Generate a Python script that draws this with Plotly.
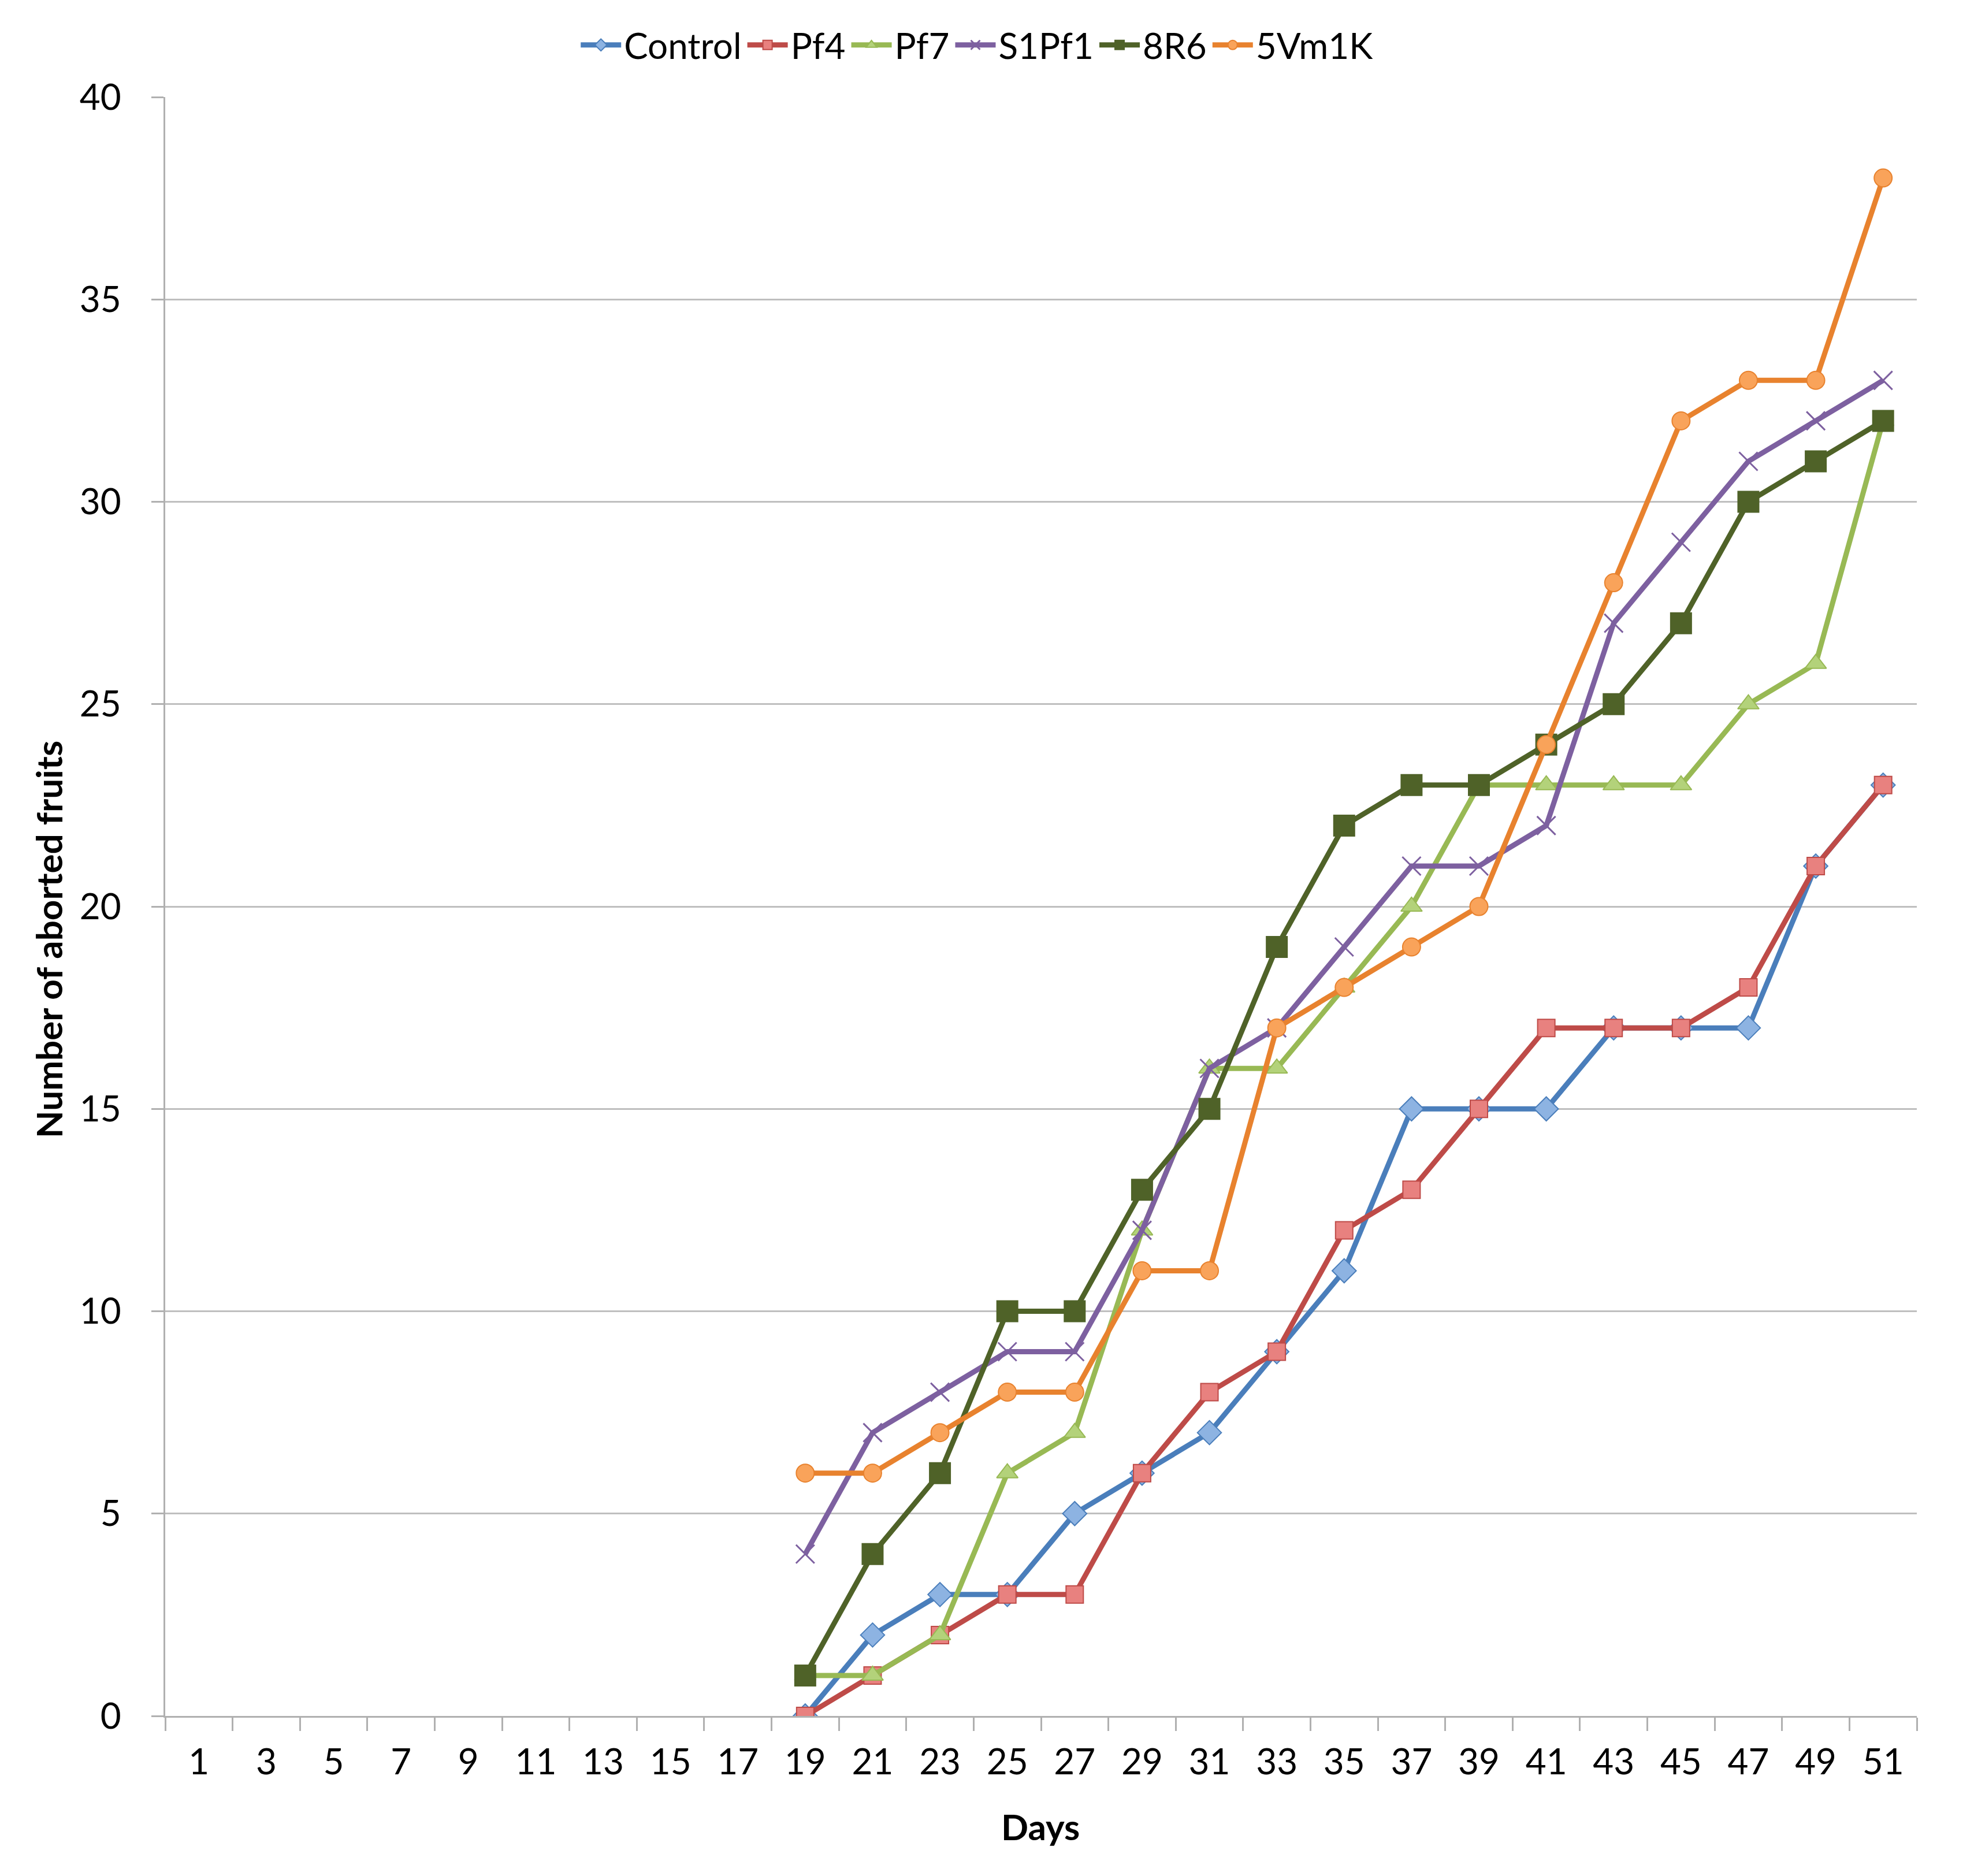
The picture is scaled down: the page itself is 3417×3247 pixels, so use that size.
import plotly.graph_objects as go

days = [1, 3, 5, 7, 9, 11, 13, 15, 17, 19, 21, 23, 25, 27, 29, 31, 33, 35, 37, 39, 41, 43, 45, 47, 49, 51]
N = None
control = [N]*9 + [0, 2, 3, 3, 5, 6, 7, 9, 11, 15, 15, 15, 17, 17, 17, 21, 23]
pf4     = [N]*9 + [0, 1, 2, 3, 3, 6, 8, 9, 12, 13, 15, 17, 17, 17, 18, 21, 23]
pf7     = [N]*9 + [1, 1, 2, 6, 7, 12, 16, 16, 18, 20, 23, 23, 23, 23, 25, 26, 32]
s1pf1   = [N]*9 + [4, 7, 8, 9, 9, 12, 16, 17, 19, 21, 21, 22, 27, 29, 31, 32, 33]
r8r6    = [N]*9 + [1, 4, 6, 10, 10, 13, 15, 19, 22, 23, 23, 24, 25, 27, 30, 31, 32]
vm1k    = [N]*9 + [6, 6, 7, 8, 8, 11, 11, 17, 18, 19, 20, 24, 28, 32, 33, 33, 38]

series = [
    ("Control", control, "#4A7EBB", "#8DB3E2", "diamond", 32, 2),
    ("Pf4", pf4, "#BE4B48", "#E8817F", "square", 30, 2),
    ("Pf7", pf7, "#98B954", "#B3D27A", "triangle-up", 32, 2),
    ("S1Pf1", s1pf1, "#7D60A0", "#7D60A0", "x-thin", 32, 3),
    ("8R6", r8r6, "#4F6228", "#4F6228", "square", 36, 2),
    ("5Vm1K", vm1k, "#E8822E", "#F9A35A", "circle", 31, 2),
]

fig = go.Figure()
for name, vals, lc, mc, sym, sz, mlw in series:
    fig.add_trace(go.Scatter(
        x=days, y=vals, name=name, mode="lines+markers",
        line=dict(color=lc, width=9),
        marker=dict(symbol=sym, size=sz, color=mc, line=dict(color=lc, width=mlw)),
    ))

W, H = 3417, 3247
L, R, T, B = 278, 107, 160, 285
PW, PH = W - L - R, H - T - B
font = "Lato, Open Sans, sans-serif"
fig.update_layout(
    width=W, height=H,
    paper_bgcolor="white", plot_bgcolor="white",
    margin=dict(l=L, r=R, t=T, b=B, autoexpand=False),
    font=dict(family=font, size=62, color="black"),
    showlegend=True,
    legend=dict(orientation="h", x=0.4926, xref="container", xanchor="center",
                y=1 + (T - 70) / PH, yref="paper", yanchor="middle",
                font=dict(size=62), tracegroupgap=0, itemwidth=70),
    xaxis=dict(
        range=[0, 52], tickmode="array", tickvals=days, ticktext=[str(d) for d in days],
        ticks="", showgrid=False, showline=True, linecolor="#B0B0B0", linewidth=3,
        zeroline=False, ticklabelstandoff=24,
        minor=dict(ticks="outside", tick0=0, dtick=2, ticklen=23, tickcolor="#B0B0B0",
                   tickwidth=3, showgrid=False),
    ),
    yaxis=dict(
        range=[0, 40], dtick=5, showgrid=True, gridcolor="#BFBFBF", gridwidth=3,
        showline=True, linecolor="#B0B0B0", linewidth=3, ticks="outside", ticklen=21,
        tickcolor="#B0B0B0", tickwidth=3, zeroline=False, ticklabelstandoff=40,
    ),
    annotations=[
        dict(text="<b>Days</b>", xref="paper", yref="paper",
             x=(1793 - L) / PW, y=(H - B - 3153) / PH,
             xanchor="center", yanchor="middle", showarrow=False, font=dict(size=62)),
        dict(text="<b>Number of aborted fruits</b>", xref="paper", yref="paper",
             x=(76 - L) / PW, y=(H - B - 1618) / PH, textangle=-90,
             xanchor="center", yanchor="middle", showarrow=False, font=dict(size=62)),
    ],
)
fig.write_html("out.html")
